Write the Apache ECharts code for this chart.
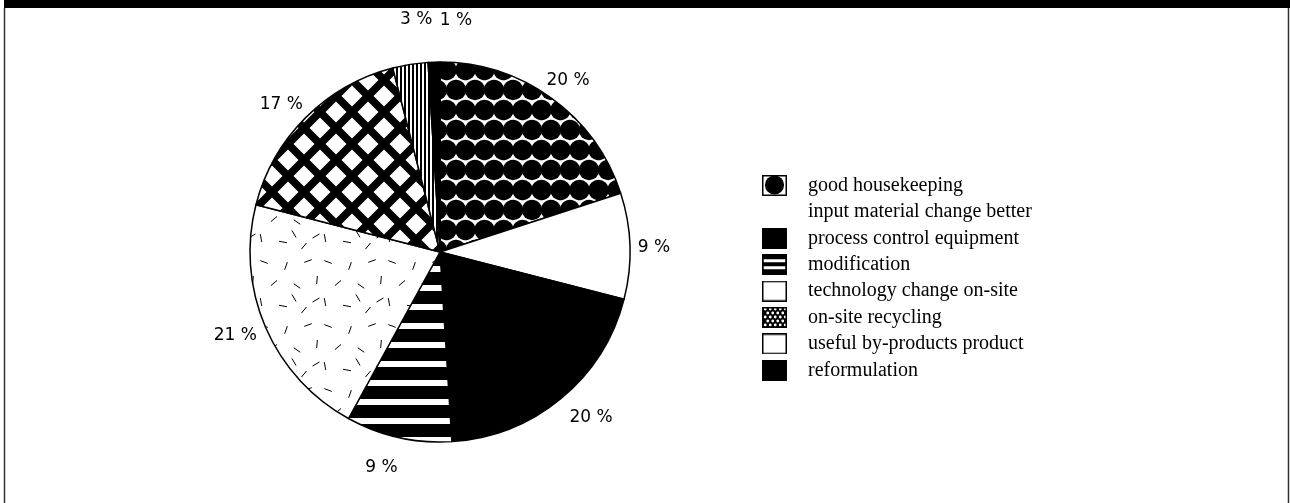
<!DOCTYPE html>
<html>
<head>
<meta charset="utf-8">
<script src="https://cdn.jsdelivr.net/npm/echarts@6/dist/echarts.min.js"></script>
<style>
  html, body { margin: 0; padding: 0; background: #fff; }
  #chart { width: 1290px; height: 503px; }
</style>
</head>
<body>
<div id="chart"></div>
<script>
// ---- data ----
const categories = [
  'good housekeeping',
  'input material change better',
  'process control equipment',
  'modification',
  'technology change on-site',
  'on-site recycling',
  'useful by-products product',
  'reformulation'
];
const shares = [20, 9, 20, 9, 21, 17, 3, 1];
const fillKinds = ['dots', 'white', 'black', 'hstripes', 'dashes', 'crosshatch', 'vstripes', 'black'];
const legendKinds = ['dotBox', 'none', 'black', 'stripeBox', 'box', 'checker', 'box', 'black'];

// ---- pattern helpers (styling only) ----
function mk(w, h, draw) {
  const c = document.createElement('canvas');
  c.width = w; c.height = h;
  draw(c.getContext('2d'), w, h);
  return c;
}
// fixed dash layout for the "technology change" texture: [x, y, angleDeg]
const dashMarks = [
  [8, 6, 20], [30, 10, 110], [52, 5, 160],
  [18, 27, 140], [41, 30, 35], [61, 24, 95],
  [5, 46, 80], [27, 50, 10], [48, 54, 130],
  [38, 42, 60], [60, 44, 150]
];
const patterns = {
  white: '#ffffff',
  black: '#000000',
  dots: { image: mk(19, 40, (g, w, h) => {
    g.fillStyle = '#fff'; g.fillRect(0, 0, w, h);
    g.fillStyle = '#000';
    const r = 10.2, rows = [[0, 10], [w / 2, 30]];
    for (const [x0, y0] of rows) for (const dx of [-w, 0, w]) for (const dy of [-h, 0, h]) {
      g.beginPath(); g.arc(x0 + dx, y0 + dy, r, 0, Math.PI * 2); g.fill();
    }
  }), repeat: 'repeat' },
  hstripes: { image: mk(8, 19, (g, w, h) => {
    g.fillStyle = '#000'; g.fillRect(0, 0, w, h);
    g.fillStyle = '#fff'; g.fillRect(0, 0, w, 6);
  }), repeat: 'repeat' },
  vstripes: { image: mk(4, 4, (g, w, h) => {
    g.fillStyle = '#fff'; g.fillRect(0, 0, w, h);
    g.fillStyle = '#000'; g.fillRect(0, 0, 2, h);
  }), repeat: 'repeat' },
  crosshatch: { image: mk(32, 32, (g, w, h) => {
    g.fillStyle = '#000'; g.fillRect(0, 0, w, h);
    g.fillStyle = '#fff';
    const d = 10.5;
    for (const [cx, cy] of [[16, 16], [0, 0], [32, 0], [0, 32], [32, 32]]) {
      g.beginPath();
      g.moveTo(cx, cy - d); g.lineTo(cx + d, cy); g.lineTo(cx, cy + d); g.lineTo(cx - d, cy);
      g.closePath(); g.fill();
    }
  }), repeat: 'repeat' },
  dashes: { image: mk(64, 64, (g, w, h) => {
    g.fillStyle = '#fff'; g.fillRect(0, 0, w, h);
    g.strokeStyle = '#000'; g.lineWidth = 1;
    const L = 4;
    for (const [x, y, deg] of dashMarks) {
      const a = deg * Math.PI / 180;
      for (const ox of [-w, 0, w]) for (const oy of [-h, 0, h]) {
        g.beginPath();
        g.moveTo(x + ox - Math.cos(a) * L, y + oy - Math.sin(a) * L);
        g.lineTo(x + ox + Math.cos(a) * L, y + oy + Math.sin(a) * L);
        g.stroke();
      }
    }
  }), repeat: 'repeat' }
};

// ---- legend icons (styling only) ----
const IW = 41, IH = 21, BW = 25;
function icon(kind) {
  const c = mk(IW, IH, (g) => {
    if (kind === 'none') return;
    const x = 0.75, y = 0.75, w = BW - 1.5, h = IH - 1.5;
    if (kind === 'black') { g.fillStyle = '#000'; g.fillRect(0, 0, BW, IH); return; }
    g.fillStyle = '#fff'; g.fillRect(x, y, w, h);
    if (kind === 'dotBox') {
      g.fillStyle = '#000'; g.beginPath(); g.arc(BW / 2, IH / 2 - 0.5, 9.6, 0, Math.PI * 2); g.fill();
    } else if (kind === 'stripeBox') {
      g.fillStyle = '#000'; g.fillRect(0, 0, BW, IH);
      g.fillStyle = '#fff'; g.fillRect(1.5, 5, BW - 3, 3); g.fillRect(1.5, 12, BW - 3, 3);
    } else if (kind === 'checker') {
      g.fillStyle = '#000'; g.fillRect(0, 0, BW, IH);
      g.fillStyle = '#fff';
      for (let yy = 2; yy < IH; yy += 4) for (let xx = 2 + ((yy / 4) % 2) * 2.5; xx < BW; xx += 5) {
        g.beginPath(); g.arc(xx, yy, 1.4, 0, Math.PI * 2); g.fill();
      }
    }
    g.strokeStyle = '#000'; g.lineWidth = 1.5; g.strokeRect(x, y, w, h);
  });
  return 'image://' + c.toDataURL();
}

const labelOffsets = [[-3, 9], [-9, 3], [9, -6], [-10, -2], [0, -5], [-1, 10], [11, -12], [23, -9]];

const pieData = categories.map((name, i) => ({
  name, value: shares[i],
  itemStyle: { color: patterns[fillKinds[i]] }
}));
const labelData = categories.map((name, i) => ({
  name, value: shares[i], label: { offset: labelOffsets[i] }
}));

const chart = echarts.init(document.getElementById('chart'), null, { renderer: 'canvas' });
chart.setOption({
  animation: false,
  backgroundColor: '#fff',
  graphic: [
    { type: 'rect', shape: { x: 4, y: 0, width: 1286, height: 8 }, style: { fill: '#000' } },
    { type: 'line', shape: { x1: 4.5, y1: 8, x2: 4.5, y2: 503 }, style: { stroke: '#333', lineWidth: 1.5 } },
    { type: 'line', shape: { x1: 1288.5, y1: 8, x2: 1288.5, y2: 503 }, style: { stroke: '#333', lineWidth: 1.5 } }
  ],
  legend: {
    orient: 'vertical',
    left: 757,
    top: 170,
    itemWidth: IW,
    itemHeight: IH,
    itemGap: 5.4,
    selectedMode: false,
    textStyle: { fontFamily: 'Liberation Serif', fontSize: 20, color: '#000' },
    data: categories.map((name, i) => ({ name, icon: icon(legendKinds[i]) }))
  },
  series: [
    {
      type: 'pie',
      center: [440, 252],
      radius: [0, 190],
      startAngle: 90,
      clockwise: true,
      silent: true,
      label: { show: false },
      labelLine: { show: false },
      itemStyle: { borderColor: '#000', borderWidth: 1.5 },
      emphasis: { disabled: true },
      data: pieData
    },
    {
      type: 'pie',
      center: [440, 252],
      radius: [190, 250],
      startAngle: 90,
      clockwise: true,
      silent: true,
      itemStyle: { color: 'rgba(0,0,0,0)', borderWidth: 0 },
      label: {
        show: true, position: 'inside', formatter: '{c} %',
        fontFamily: 'DejaVu Sans', fontSize: 17, color: '#000'
      },
      labelLine: { show: false },
      emphasis: { disabled: true },
      data: labelData
    }
  ]
});
</script>
</body>
</html>
